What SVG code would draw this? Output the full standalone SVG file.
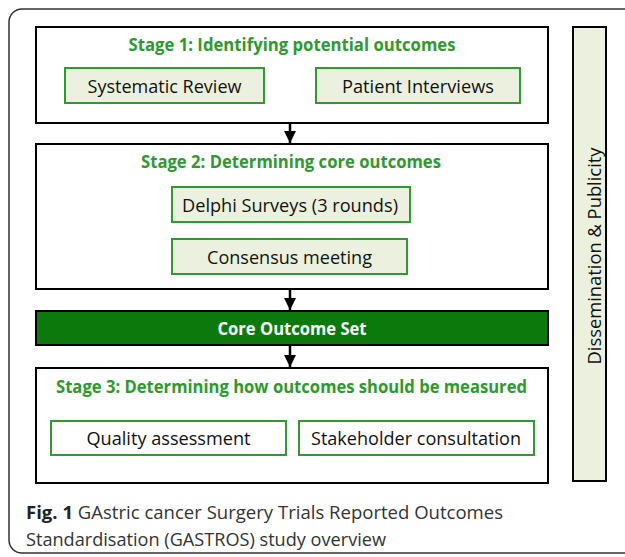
<svg xmlns="http://www.w3.org/2000/svg" width="625" height="557" viewBox="0 0 625 557">
<style>
.stage{fill:#fff;stroke:#000;stroke-width:2}
.sub{fill:#ebf1de;stroke:#2f9a2f;stroke-width:2}
.subw{fill:#fff;stroke:#2f9a2f;stroke-width:2}
.title{font-family:"Open Sans","Liberation Sans",sans-serif;font-weight:bold;fill:#2e9a2e;font-size:17px;text-anchor:middle;dominant-baseline:central}
.lbl{font-family:"Open Sans","Liberation Sans",sans-serif;fill:#111;font-size:19px;text-anchor:middle;dominant-baseline:central}
.cap{font-family:"Open Sans","Liberation Sans",sans-serif;fill:#333;font-size:18.5px}
</style>
<defs>
<marker id="ah" viewBox="0 0 10 10" refX="10" refY="5" markerWidth="13" markerHeight="12" markerUnits="userSpaceOnUse" orient="auto">
<path d="M0,0 L10,5 L0,10 z" fill="#000"/>
</marker>
</defs>
<rect x="9" y="9" width="640" height="544" rx="13" fill="#fff" stroke="#333" stroke-width="1.5"/>

<g id="stage1">
<rect class="stage" x="36" y="27" width="512" height="96"/>
<text class="title" x="292" y="44" textLength="327" lengthAdjust="spacingAndGlyphs">Stage 1: Identifying potential outcomes</text>
</g>
<g id="systematic-review">
<rect class="sub" x="65" y="68" width="199" height="35"/>
<text class="lbl" x="164.5" y="86" textLength="154" lengthAdjust="spacingAndGlyphs">Systematic Review</text>
</g>
<g id="patient-interviews">
<rect class="sub" x="316" y="68" width="204" height="35"/>
<text class="lbl" x="418" y="86" textLength="152" lengthAdjust="spacingAndGlyphs">Patient Interviews</text>
</g>

<g id="stage2">
<rect class="stage" x="36" y="144" width="512" height="145"/>
<text class="title" x="291" y="161" textLength="300" lengthAdjust="spacingAndGlyphs">Stage 2: Determining core outcomes</text>
</g>
<g id="delphi">
<rect class="sub" x="172" y="187" width="238" height="35"/>
<text class="lbl" x="290" y="205" textLength="216" lengthAdjust="spacingAndGlyphs">Delphi Surveys (3 rounds)</text>
</g>
<g id="consensus">
<rect class="sub" x="172" y="239" width="235" height="35"/>
<text class="lbl" x="289.5" y="257" textLength="165" lengthAdjust="spacingAndGlyphs">Consensus meeting</text>
</g>

<g id="core-outcome-set">
<rect x="36" y="311" width="512" height="34" fill="#0b790b" stroke="#000" stroke-width="2"/>
<text class="title" x="292" y="328" style="fill:#fff" textLength="149" lengthAdjust="spacingAndGlyphs">Core Outcome Set</text>
</g>

<g id="stage3">
<rect class="stage" x="36" y="368" width="512" height="115"/>
<text class="title" x="291.5" y="386" textLength="471" lengthAdjust="spacingAndGlyphs">Stage 3: Determining how outcomes should be measured</text>
</g>
<g id="quality">
<rect class="subw" x="51" y="421" width="235" height="34"/>
<text class="lbl" x="168.5" y="438" textLength="164" lengthAdjust="spacingAndGlyphs">Quality assessment</text>
</g>
<g id="stakeholder">
<rect class="subw" x="299" y="421" width="235" height="34"/>
<text class="lbl" x="416" y="438" textLength="210" lengthAdjust="spacingAndGlyphs">Stakeholder consultation</text>
</g>

<g id="dissemination">
<rect x="573" y="27" width="33" height="454" fill="#ebf1de" stroke="#000" stroke-width="2"/>
<text class="lbl" transform="translate(594,256) rotate(-90)" x="0" y="0" textLength="217" lengthAdjust="spacingAndGlyphs">Dissemination &amp; Publicity</text>
</g>

<g id="connectors" stroke="#000" stroke-width="2.5" fill="none">
<line x1="290" y1="123" x2="290" y2="143" marker-end="url(#ah)"/>
<line x1="290" y1="289" x2="290" y2="310" marker-end="url(#ah)"/>
<line x1="290" y1="345" x2="290" y2="367" marker-end="url(#ah)"/>
</g>

<g id="caption">
<text class="cap" x="26" y="519" textLength="477" lengthAdjust="spacingAndGlyphs"><tspan font-weight="bold" fill="#222">Fig. 1</tspan> GAstric cancer Surgery Trials Reported Outcomes</text>
<text class="cap" x="26" y="546" textLength="360" lengthAdjust="spacingAndGlyphs">Standardisation (GASTROS) study overview</text>
</g>
</svg>
